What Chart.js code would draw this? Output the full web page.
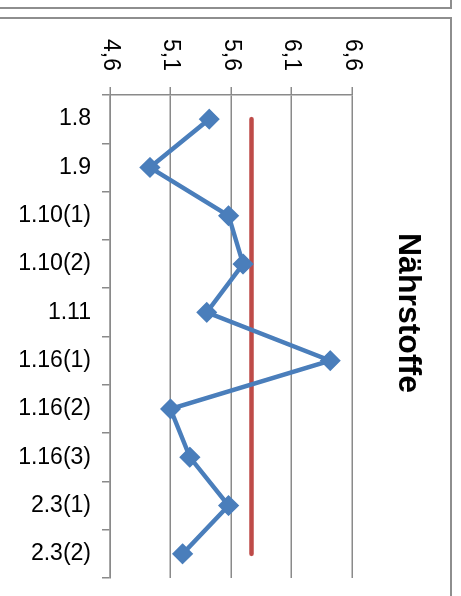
<!DOCTYPE html>
<html>
<head>
	<meta charset="utf-8">
	<title>Nährstoffe</title>
	<style>
		body { margin: 0; background: #fff; overflow: hidden; }
		.frame { position: absolute; box-sizing: border-box; border: 2px solid #8e8e8e; }
		#wrap { position: absolute; left: 0; top: 0; width: 578px; height: 452px;
			transform-origin: 0 0; transform: translate(452px, 18px) rotate(90deg); }
	</style>
</head>
<body>
	<div class="frame" style="left:-2px;top:-10px;width:454px;height:19px"></div>
	<div class="frame" style="left:-2px;top:17px;width:454px;height:600px"></div>
	<div id="wrap"><canvas id="myChart" width="578" height="452"></canvas></div>

	<script src="https://cdn.jsdelivr.net/npm/chart.js"></script>
	<script type="text/javascript">
	// data
	var categories = ['1.8', '1.9', '1.10(1)', '1.10(2)', '1.11', '1.16(1)', '1.16(2)', '1.16(3)', '2.3(1)', '2.3(2)'];
	var naehrstoffe = [5.42, 4.93, 5.58, 5.70, 5.40, 6.42, 5.10, 5.26, 5.58, 5.20];
	var mittelwert = [5.77, 5.77, 5.77, 5.77, 5.77, 5.77, 5.77, 5.77, 5.77, 5.77];
	var valueTicks = ['4,6', '5,1', '5,6', '6,1', '6,6'];

	var gridColor = '#8a8a8a';

	// chart is drawn upright and the canvas is turned 90deg by css
	var ctx = document.getElementById('myChart').getContext('2d');
	var chart = new Chart(ctx, {
		type: 'line',
		data: {
			labels: categories,
			datasets: [{
				label: 'Nährstoffe',
				data: naehrstoffe,
				borderColor: '#4a7ebb',
				backgroundColor: '#4a7ebb',
				borderWidth: 4.5,
				tension: 0,
				pointStyle: 'rectRot',
				pointRadius: 9.5,
				pointBorderWidth: 1.5,
				fill: false
			}, {
				label: 'Mittelwert',
				data: mittelwert,
				borderColor: '#be4b48',
				borderWidth: 4.5,
				borderCapStyle: 'round',
				pointRadius: 0,
				fill: false
			}]
		},
		options: {
			responsive: false,
			animation: false,
			layout: { padding: { left: 12, right: 0, top: 0, bottom: 0 } },
			plugins: {
				legend: { display: false },
				tooltip: { enabled: false },
				title: {
					display: true,
					text: 'Nährstoffe',
					color: '#000',
					font: { family: 'Liberation Sans', size: 32, weight: 'bold', lineHeight: 1.2 },
					padding: { top: 25, bottom: 36.6 }
				}
			},
			scales: {
				x: {
					offset: true,
					grid: { offset: true, drawOnChartArea: false, drawTicks: true, tickLength: 8, color: gridColor, lineWidth: 1.5 },
					border: { display: true, color: gridColor, width: 1.5 },
					ticks: { minRotation: 90, maxRotation: 90, padding: 11, color: '#000',
						font: { family: 'Liberation Sans', size: 23 } },
					afterFit: function(scale) { scale.height = 110; }
				},
				y: {
					min: 4.6,
					max: 6.6,
					grid: { drawTicks: true, tickLength: 8, color: gridColor, lineWidth: 1.5 },
					border: { display: true, color: gridColor, width: 1.5 },
					ticks: { stepSize: 0.5, padding: 16, color: '#000',
						font: { family: 'Liberation Sans', size: 23 },
						callback: function(v, i) { return valueTicks[i]; } },
					afterFit: function(scale) { scale.width = 65; }
				},
				// empty strip so the plot ends where the picture's does
				spacer: {
					type: 'linear',
					position: 'right',
					grid: { display: false },
					border: { display: false },
					ticks: { display: false },
					afterFit: function(scale) { scale.width = 18; }
				}
			}
		}
	});
	</script>
</body>
</html>
